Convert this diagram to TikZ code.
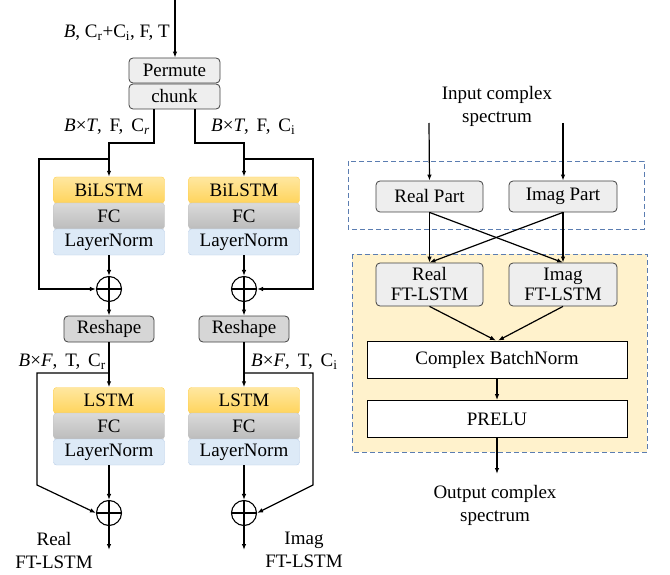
\documentclass[tikz,border=0pt]{standalone}
\usepackage{fontspec}
\setmainfont{Liberation Serif}
\usetikzlibrary{arrows.meta}
\definecolor{lstmtop}{HTML}{FFE7A0}
\definecolor{lstmbot}{HTML}{FFD45C}
\definecolor{lstmedge}{HTML}{FFCF4D}
\definecolor{fctop}{HTML}{DADADA}
\definecolor{fcbot}{HTML}{BCBCBC}
\definecolor{fcedge}{HTML}{C4C4C4}
\definecolor{lnfill}{HTML}{DDEAF7}
\definecolor{lnedge}{HTML}{B7CCE6}
\definecolor{boxgray}{HTML}{EEEEEE}
\definecolor{reshapegray}{HTML}{D6D6D6}
\definecolor{edgegray}{HTML}{404040}
\definecolor{dashblue}{HTML}{5B7DB1}
\definecolor{beige}{HTML}{FFF2CC}
\tikzset{
  txt/.style={font=\fontsize{19}{22}\selectfont, inner sep=0pt},
  blk/.style={txt, rectangle, rounded corners=3pt, minimum width=111pt, minimum height=26pt},
  lstmbox/.style={blk, draw=lstmedge, top color=lstmtop, bottom color=lstmbot},
  fcbox/.style={blk, draw=fcedge, top color=fctop, bottom color=fcbot},
  lnbox/.style={blk, draw=lnedge, fill=lnfill},
  graybox/.style={txt, rectangle, rounded corners=4pt, draw=edgegray, fill=boxgray, line width=0.8pt},
  reshapebox/.style={txt, rectangle, rounded corners=4pt, draw=edgegray, fill=reshapegray, line width=0.8pt, minimum width=90pt, minimum height=26pt},
  plainbox/.style={txt, rectangle, draw=black, fill=white, line width=0.8pt, minimum width=260pt, minimum height=37pt},
  addop/.style={circle, draw, line width=1.1pt, minimum size=25pt, inner sep=0pt,
    path picture={\draw[line width=1.1pt] (path picture bounding box.north) -- (path picture bounding box.south)
      (path picture bounding box.west) -- (path picture bounding box.east);}},
  arr/.style={-{Latex[length=6pt,width=4.5pt]}, line width=1.2pt},
  ln/.style={line width=1.5pt},
  dashbox/.style={draw=dashblue, dashed, dash pattern=on 5pt off 3pt, line width=0.9pt}
}
\begin{document}
\begin{tikzpicture}[x=1pt,y=-1pt]
\useasboundingbox (0,0) rectangle (670,575);

% ---------- left: dual-path FT-LSTM ----------
\coordinate (in) at (175,0);
\node[txt, anchor=east] (inlab) at (170,33) {\textit{B}, C\textsubscript{r}+C\textsubscript{i}, F, T};
\node[graybox, minimum width=91pt, minimum height=25pt] (perm) at (174.5,70.5) {Permute};
\node[graybox, minimum width=91pt, minimum height=25pt] (chunk) at (174.5,96.5) {chunk};
\draw[arr] (in) -- (perm.north -| in);

% intra-chunk (BiLSTM) and inter-chunk (LSTM) stacks
\foreach \n/\cx in {L/109, R/244}{
  \node[lstmbox] (bi\n) at (\cx,190) {BiLSTM};
  \node[fcbox] (fa\n) at (\cx,216) {FC};
  \node[lnbox] (la\n) at (\cx,242) {LayerNorm};
  \node[addop] (pa\n) at (\cx,289) {};
  \node[reshapebox] (rs\n) at (\cx,329) {Reshape};
  \node[lstmbox] (ls\n) at (\cx,400.5) {LSTM};
  \node[fcbox] (fb\n) at (\cx,426) {FC};
  \node[lnbox] (lb\n) at (\cx,452) {LayerNorm};
  \node[addop] (pb\n) at (\cx,513) {};
}

\node[txt, anchor=east] (labA) at (150,127) {\textit{B}×\textit{T},\, F,\, C\textsubscript{\textit{r}}};
\node[txt, anchor=west] (labB) at (211,127) {\textit{B}×\textit{T},\, F,\, C\textsubscript{i}};

\coordinate (sL) at (109,159);
\coordinate (sR) at (244,159);
\draw[ln] (chunk.south -| 154,0) |- (109,143) -- (sL);
\draw[ln] (chunk.south -| 195,0) |- (244,143) -- (sR);
\draw[arr] (sL) -- (biL.north);
\draw[arr] (sR) -- (biR.north);
\draw[arr] (sL) -- (39,159) |- (paL.west);
\draw[arr] (sR) -- (313,159) |- (paR.east);
\foreach \n in {L,R}{
  \draw[arr] (la\n.south) -- (pa\n.north);
  \draw[arr] (pa\n.south) -- (rs\n.north);
}

\node[txt, anchor=east] (labC) at (106,362) {\textit{B}×\textit{F},\, T,\, C\textsubscript{r}};
\node[txt, anchor=west] (labD) at (251,362) {\textit{B}×\textit{F},\, T,\, C\textsubscript{i}};
\coordinate (tL) at (109,373);
\coordinate (tR) at (244,373);
\draw[ln] (rsL.south) -- (tL);
\draw[ln] (rsR.south) -- (tR);
\draw[arr] (tL) -- (lsL.north);
\draw[arr] (tR) -- (lsR.north);
\draw[arr] (tL) -- (37,373) -- (37,485) -- (pbL.west);
\draw[arr] (tR) -- (313,373) -- (313,485) -- (pbR.east);
\coordinate (oL) at (109,550);
\coordinate (oR) at (244,550);
\foreach \n in {L,R}{
  \draw[arr] (lb\n.south) -- (pb\n.north);
  \draw[arr] (pb\n.south) -- (o\n);
}
\node[txt, align=center] (outL) at (54,550) {Real\\[1pt]FT-LSTM};
\node[txt, align=center] (outR) at (304,550) {Imag\\[1pt]FT-LSTM};

% ---------- right: complex FT-LSTM block ----------
\fill[beige] (352,254) rectangle (647,452);
\draw[dashbox] (352,254) rectangle (647,452);
\draw[dashbox] (348,161) rectangle (644,229);

\node[txt, align=center] (cin) at (497,106) {Input complex\\[1pt]spectrum};
\coordinate (cinL) at (429,123);
\coordinate (cinR) at (563,123);
\node[graybox, minimum width=107pt, minimum height=31pt] (re) at (429.5,196.5) {Real Part};
\node[graybox, minimum width=108pt, minimum height=31pt] (im) at (563,196.5) {Imag Part};
\draw[arr] (cinL) -- (re.north);
\draw[arr] (cinR) -- (im.north);

\node[graybox, minimum width=107pt, minimum height=43pt, align=center] (rf) at (429.5,284.5) {Real\\[-2pt]FT-LSTM};
\node[graybox, minimum width=108pt, minimum height=43pt, align=center] (imf) at (563,284.5) {Imag\\[-2pt]FT-LSTM};
\draw[arr] (re.south) -- (rf.north);
\draw[arr] (re.south) -- (imf.north);
\draw[arr] (im.south) -- (rf.north);
\draw[arr] (im.south) -- (imf.north);

\node[plainbox] (cbn) at (497,359.5) {Complex BatchNorm};
\node[plainbox] (prelu) at (497,419) {PRELU};
\draw[arr] (rf.south) -- ([xshift=-1pt]cbn.north);
\draw[arr] (imf.south) -- ([xshift=1pt]cbn.north);
\draw[arr] (cbn.south) -- (prelu.north);
\coordinate (cout) at (497,474);
\draw[arr] (prelu.south) -- (cout);
\node[txt, align=center] (coutlab) at (495,505) {Output complex\\[1pt]spectrum};
\end{tikzpicture}
\end{document}
